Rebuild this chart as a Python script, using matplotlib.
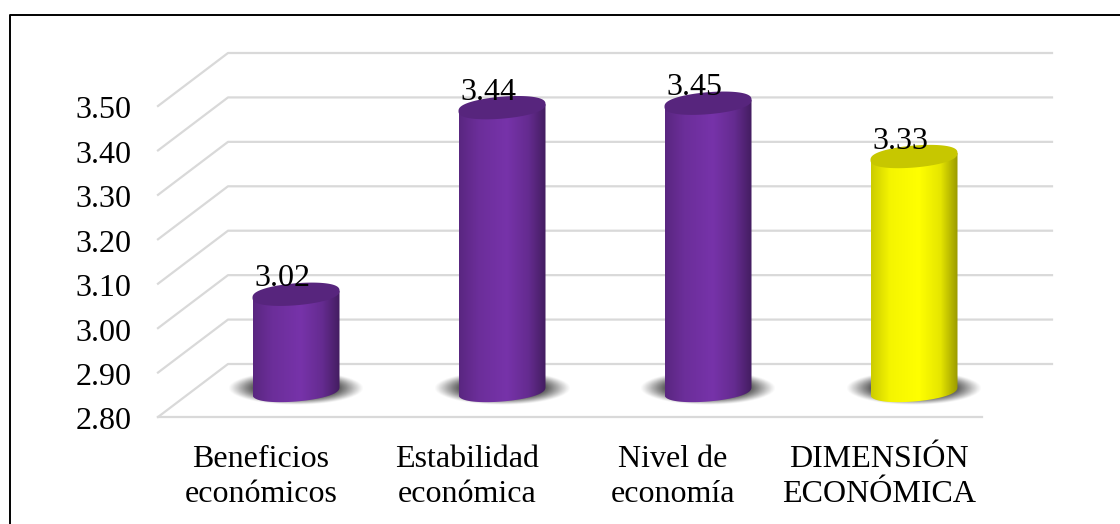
"""3D-look cylinder chart: oblique floor/wall drawn in the axes' own data units."""
import numpy as np
import matplotlib; matplotlib.use("Agg")
import matplotlib.pyplot as plt
from matplotlib.path import Path
from matplotlib.patches import PathPatch
from matplotlib.lines import Line2D
from matplotlib.colors import LinearSegmentedColormap, to_rgb

categories = ["Beneficios\neconómicos", "Estabilidad\neconómica", "Nivel de\neconomía", "DIMENSIÓN\nECONÓMICA"]
values = [3.02, 3.44, 3.45, 3.33]
value_labels = ["3.02", "3.44", "3.45", "3.33"]
colors = ["#7030A0", "#7030A0", "#7030A0", "#FFFF00"]
tick_values = [2.8, 2.9, 3.0, 3.1, 3.2, 3.3, 3.4, 3.5]
tick_labels = ["2.80", "2.90", "3.00", "3.10", "3.20", "3.30", "3.40", "3.50"]

plt.rcParams["font.family"] = ["Liberation Serif", "DejaVu Serif"]
W, H = 1120, 524
fig = plt.figure(figsize=(W/100, H/100), dpi=100)
# page frame: only left and top edges fall inside the picture
fig.add_artist(Line2D([10/W, 10/W, 1], [0, 1-15/H, 1-15/H], transform=fig.transFigure,
                      color="black", lw=1.4))

# front plane of the chart box, in pixels
X0, X1, Y0, Y1 = 158, 982, 417, 106
ax = fig.add_axes([X0/W, 1-Y0/H, (X1-X0)/W, (Y0-Y1)/H])
ax.patch.set_alpha(0)
for s in ax.spines.values(): s.set_visible(False)
ax.set_xticks([]); ax.set_yticks([])
px = 4/(X1-X0); py = .7/(Y0-Y1)        # data units per pixel
DX, DY = 70*px, 53*py                  # depth of the box

GRID = "#D9D9D9"
ax.plot([0, 4], [2.8, 2.8], color=GRID, lw=1.6, clip_on=False, zorder=1)
for t in tick_values:
    ax.plot([0, DX, 4+DX], [t, t+DY, t+DY], color=GRID, lw=1.6, clip_on=False, zorder=1)

for t, l in zip(tick_values, tick_labels):
    ax.annotate(l, (0, t), xytext=(-19, -3.5), textcoords="offset points", ha="right", va="center",
                fontsize=23, annotation_clip=False)
for i, c in enumerate(categories):
    ax.annotate(c, (i+.5, 2.8), xytext=(0, -20), textcoords="offset points", ha="center", va="top",
                fontsize=23, linespacing=1.3, annotation_clip=False)

def shaded(base, left=.8, right=.6):
    b = np.array(to_rgb(base))
    return LinearSegmentedColormap.from_list(
        "c", [(0, b*left), (.22, b*.96), (.55, np.clip(b*1.06, 0, 1)), (.8, b*.9), (1, b*right)])

RW, RH = 43.5*px, 11*py     # half width / half height of the ellipses
LEAN = 3.5*py/(43.5*px)     # ellipse lean, left low and right high

def ell_points(cx, cy, a, b, lean, n=160):
    t = np.linspace(0, 2*np.pi, n)
    x = a*np.cos(t)
    s = np.sin(t)
    return cx+x, cy + b*np.sign(s)*np.abs(s)**.8 + lean*x

yy, xx = np.mgrid[-1:1:80j, -1:1:160j]
shadow = np.zeros((80, 160, 4))
shadow[..., :3] = .3
shadow[..., 3] = np.clip((1 - xx**2 - yy**2)*1.6, 0, 1)**1.2 * .95

for i, (v, c) in enumerate(zip(values, colors)):
    cx = i + .5 + DX/2
    base = 2.8 + DY/2
    top = v + DY/2 - 1.5*py
    # floor shadow
    sx, sy = cx, base + 2*py
    ax.imshow(shadow, extent=[sx-68*px, sx+68*px, sy-17*py, sy+17*py], aspect="auto",
              zorder=2, clip_on=False, interpolation="bilinear")
    # body: side gradient clipped to the cylinder outline
    bx, by = ell_points(cx, base, RW, RH, LEAN)
    tx, ty = ell_points(cx, top, RW, RH, LEAN)
    lower = bx.size//2
    vx = np.r_[cx-RW, bx[lower:], cx+RW]
    vy = np.r_[top-LEAN*RW, by[lower:], top+LEAN*RW]
    body = PathPatch(Path(np.c_[vx, vy]), fc="none", ec="none", transform=ax.transData)
    ax.add_patch(body)
    g = np.linspace(0, 1, 256)[None, :]
    im = ax.imshow(g, extent=[cx-RW, cx+RW, 2.7, top+.2], aspect="auto", cmap=shaded(c), zorder=3)
    im.set_clip_path(body)
    im.set_clip_box(fig.bbox)
    cap = np.array(to_rgb(c))*.78
    ax.fill(tx, ty, color=cap, zorder=4, clip_on=False, lw=0)
    ax.annotate(value_labels[i], (cx, top), xytext=(-9.5, 11), textcoords="offset points",
                ha="center", va="center", fontsize=23, zorder=5, annotation_clip=False)
ax.set_xlim(0, 4); ax.set_ylim(2.8, 3.5)
fig.savefig("out.png", dpi=100)
